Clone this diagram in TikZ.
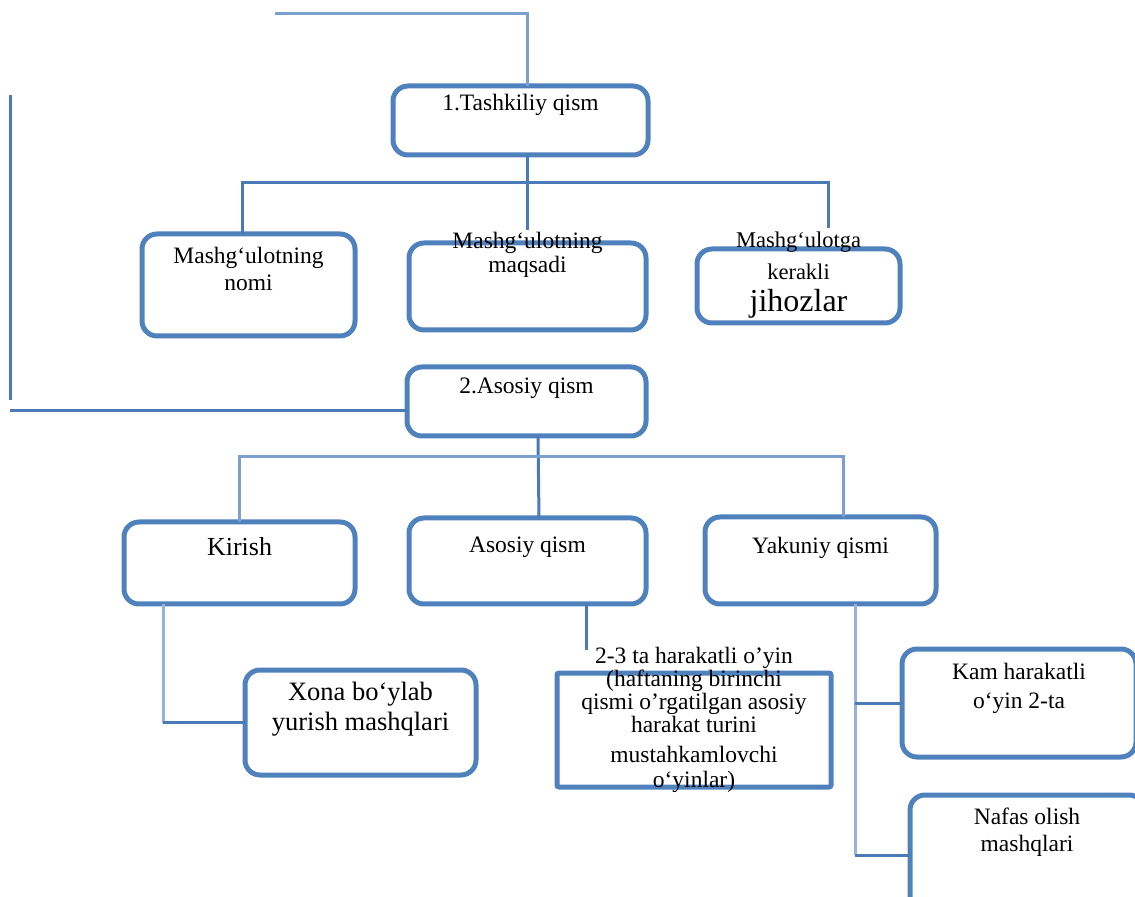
\documentclass[tikz,border=0pt]{standalone}
\usepackage{fontspec}
\setmainfont{Liberation Serif}
\usepackage{tikz}
\usetikzlibrary{calc}
\definecolor{qutiko}{RGB}{79,129,189}
\definecolor{chiziqko}{RGB}{74,122,184}
\definecolor{ochko}{RGB}{150,180,216}
% eni, bo'yi, yuqoridan oraliq, matn
\newcommand{\ichi}[4]{\parbox[c][#2][t]{#1}{\centering\vspace*{#3}#4}}

\begin{document}
\begin{tikzpicture}[x=0.5pt,y=-0.5pt,
  quti/.style={draw=qutiko, line width=2.5pt, rounded corners=7.5pt, inner sep=0pt, outer sep=0pt, anchor=north west, font=\fontsize{11.75}{13.5}\selectfont},
  bog/.style={draw=chiziqko, line width=1.5pt},
  och/.style={draw=ochko, line width=1.5pt},
  orta/.style={draw=qutiko!75, line width=1.5pt}]
\path[use as bounding box, clip] (0,0) rectangle (1135,897);

% 1-qism
\node[quti] (tash) at (393,86) {\ichi{127.5pt}{34.5pt}{4.25pt}{1.Tashkiliy qism}};
\node[quti] (nomi) at (142,234) {\ichi{106.5pt}{51pt}{6.5pt}{Mashg‘ulotning\\nomi}};
\node[quti, font=\fontsize{11.75}{12}\selectfont] (maqsad) at (409,243) {\ichi{118.5pt}{43.5pt}{-5.5pt}{Mashg‘ulotning\\maqsadi}};
\node[quti, font=\fontsize{11.25}{16}\selectfont] (jihoz) at (697,249) {\ichi{101.5pt}{37pt}{-8.5pt}{Mashg‘ulotga\\kerakli\\{\fontsize{16}{16}\selectfont jihozlar}}};

% 2-qism
\node[quti] (asos) at (407,367) {\ichi{119.5pt}{34.5pt}{5.5pt}{2.Asosiy qism}};
\node[quti, font=\fontsize{13}{15}\selectfont] (kirish) at (124,522) {\ichi{115.5pt}{41pt}{7.5pt}{Kirish}};
\node[quti] (asq) at (409,518) {\ichi{118.5pt}{43pt}{9.5pt}{Asosiy qism}};
\node[quti] (yak) at (705,517) {\ichi{115.5pt}{43.5pt}{10pt}{Yakuniy qismi}};

\node[quti, font=\fontsize{13.25}{15}\selectfont] (xona) at (245,670) {\ichi{115.5pt}{52.5pt}{6pt}{Xona bo‘ylab\\yurish mashqlari}};
\node[quti, rounded corners=1pt, font=\fontsize{11.75}{11.5}\selectfont] (markaz) at (557,673) {\ichi{137pt}{57pt}{-13pt}{2-3 ta harakatli o’yin\\(haftaning birinchi\\qismi o’rgatilgan asosiy\\harakat turini\\[3.5pt]mustahkamlovchi\\[1pt]o‘yinlar)}};
\node[quti, font=\fontsize{11.75}{14.5}\selectfont] (kam) at (902,649) {\ichi{117pt}{54pt}{7pt}{Kam harakatli\\o‘yin 2-ta}};
\node[quti] (nafas) at (910,795) {\ichi{117pt}{60pt}{6.5pt}{Nafas olish\\mashqlari}};

% bog'lovchi chiziqlar
\coordinate (tepa) at (275,14);
\coordinate (chap) at (10,95);
\coordinate (chappast) at (10,400);
\coordinate (shina1) at (828,183);
\coordinate (jihtepa) at (828,228);
\coordinate (maqtepa) at (527,230);
\coordinate (shina2) at (843,457);
\coordinate (oyin) at (586,650);
\coordinate (kirpast) at ([xshift=-38.25pt]kirish.south);
\coordinate (yakpast) at ([xshift=17.25pt]yak.south);

\draw[orta] (tepa) -| ([xshift=3.25pt]tash.north);
\draw[bog] (chap) -- (chappast);
\draw[bog] (chap |- 0,411) -- ([yshift=-4.75pt]asos.west);

\draw[bog] ([xshift=3.25pt]tash.south) -- (maqtepa);
\draw[bog] ([xshift=-3pt]nomi.north) |- (shina1) -- (jihtepa);

\draw[bog] ([xshift=5.75pt]asos.south) -- ([xshift=5.75pt]asq.north);
\draw[orta] (kirish.north) |- (shina2) -- ([xshift=11.25pt]yak.north);

\draw[och] (kirpast) -- (kirpast |- xona.west);
\draw[bog] (kirpast |- xona.west) -- (xona.west);
\draw[bog] ([xshift=29.25pt]asq.south) -- (oyin);

\draw[och] (yakpast) -- (yakpast |- nafas.west);
\draw[bog] (yakpast |- kam.west) -- (kam.west);
\draw[bog] (yakpast |- nafas.west) -- (nafas.west);

\end{tikzpicture}
\end{document}
